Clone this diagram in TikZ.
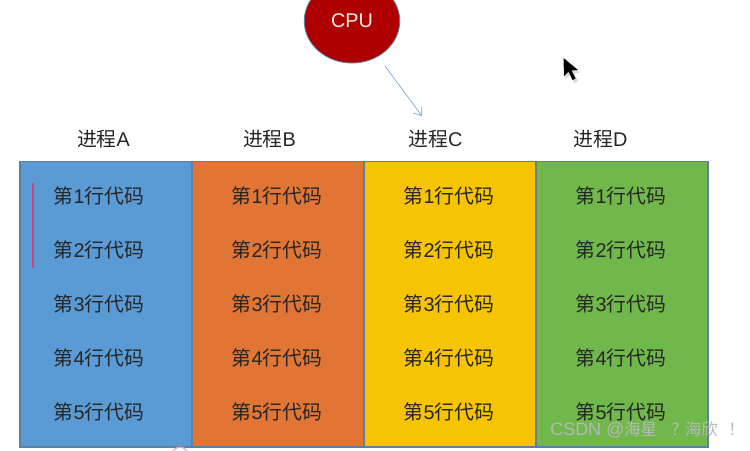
\documentclass[tikz,border=0pt]{standalone}
\usepackage{fontspec}
\usetikzlibrary{arrows.meta, shapes.geometric}
\setmainfont{Liberation Sans}
\newfontfamily\cjk{Noto Sans CJK SC}
\definecolor{colA}{HTML}{5B9BD5}
\definecolor{colB}{HTML}{E07535}
\definecolor{colC}{HTML}{F6C402}
\definecolor{colD}{HTML}{70B84B}
\definecolor{edgeblue}{HTML}{5F7F9F}
\definecolor{cpured}{HTML}{AE0000}
\definecolor{arrowblue}{HTML}{7FA6CC}
\definecolor{markred}{HTML}{C8467A}
\definecolor{markpink}{HTML}{EBA5B5}
\tikzset{
  column/.style={draw=edgeblue, line width=0.6pt, minimum width=3.44cm, minimum height=5.72cm, inner sep=0pt},
  codeline/.style={font=\fontsize{11.3}{13}\selectfont, text=black!85, inner sep=0pt},
}
\newcommand{\codetext}[1]{{\cjk 第}#1{\cjk 行代码}}
\begin{document}
\begin{tikzpicture}[x=0.02cm, y=-0.02cm]
  \useasboundingbox (0,0) rectangle (750,450);
  % Processes
  \foreach \name/\c/\xc/\xh/\xt in {A/colA/106/103.5/99, B/colB/278/269.5/277, C/colC/450/435.5/449, D/colD/622/600.5/621} {
    \node[column, fill=\c] (col\name) at (\xc,304) {};
    \node[codeline] (head\name) at (\xh,139) {{\cjk 进程}\name};
    \foreach \n in {1,...,5} {
      \node[codeline] (line\name\n) at (\xt,{196+54*(\n-1)}) {\codetext{\n}};
    }
  }
  % CPU and its pointer
  \node[ellipse, draw=edgeblue, line width=0.5pt, fill=cpured, minimum width=1.91cm, minimum height=1.68cm, inner sep=0pt, text=white!92!black, font=\fontsize{11.3}{13}\selectfont] (cpu) at (352,21) {CPU};
  \coordinate (ptrstart) at (385,66);
  \coordinate (ptrend) at (422,116);
  \draw[-{Straight Barb[length=4pt, width=6pt]}, arrowblue, line width=0.4pt] (ptrstart) -- (ptrend);
  % Mark next to the first two lines
  \coordinate (markstart) at (33,183);
  \coordinate (markend) at (33,268);
  \draw[markred, line width=0.8pt] (markstart) -- (markend);
  % Leftover below the first column
  \draw[markpink, line width=0.7pt] (173,451) arc[start angle=210, end angle=330, radius=8];
  % Mouse cursor
  \fill[black!15] (565,61) -- (565,79) -- (570,75) -- (574,83) -- (578,81) -- (574,73) -- (580,73) -- cycle;
  \fill[black] (563.5,58) -- (564,76) -- (568.5,71.5) -- (572.5,80) -- (575.5,78.5) -- (571.5,70.5) -- (578,70) -- cycle;
  % Watermark
  \node[text=white!72!black, font=\fontsize{10.2}{12}\selectfont, inner sep=0pt, anchor=west] (mark) at (550,430) {CSDN @{\cjk\fontsize{9.35}{12}\selectfont 海星\hspace{8pt}？\hspace{-1.5pt}海欣\hspace{6pt}！}};
\end{tikzpicture}
\end{document}
